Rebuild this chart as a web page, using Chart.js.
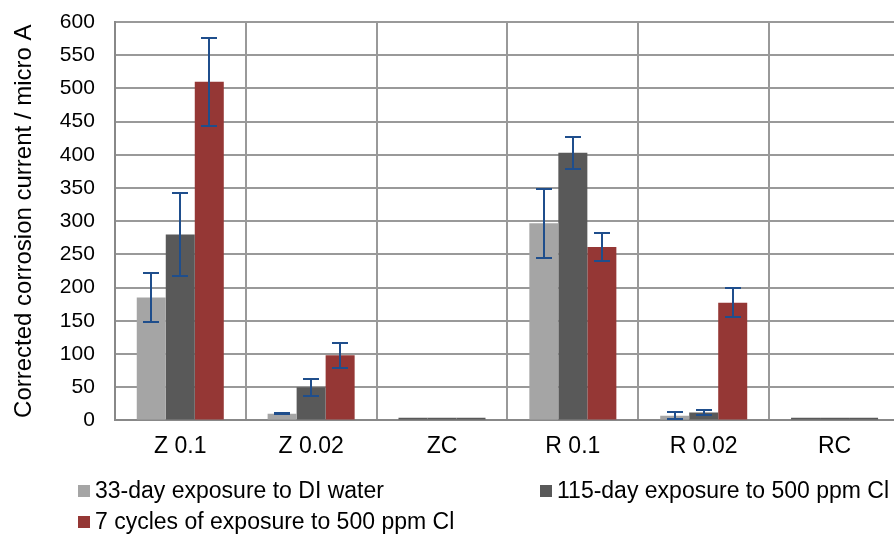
<!DOCTYPE html>
<html>
<head>
<meta charset="utf-8">
<script src="https://cdn.jsdelivr.net/npm/chart.js@4/dist/chart.umd.min.js"></script>
<style>
  html, body { margin: 0; padding: 0; background: #fff; overflow: hidden; }
  #wrap { position: relative; width: 900px; height: 534px; }
  #legend { position: absolute; left: 0; top: 0; width: 900px; height: 534px; pointer-events: none;
            font-family: "Liberation Sans", Arial, sans-serif; font-size: 23px; color: #000; }
  .item { position: absolute; white-space: nowrap; line-height: 26px; }
  .box { display: inline-block; width: 12px; height: 12px; margin-right: 5px; vertical-align: 1px; }
</style>
</head>
<body>
<div id="wrap">
  <canvas id="chart" width="900" height="534"></canvas>
  <div id="legend"></div>
</div>
<script>
const categories = ['Z 0.1', 'Z 0.02', 'ZC', 'R 0.1', 'R 0.02', 'RC'];
const yTicks = [0, 50, 100, 150, 200, 250, 300, 350, 400, 450, 500, 550, 600];

const seriesNames = [
    '33-day exposure to DI water',
    '115-day exposure to 500 ppm Cl',
    '7 cycles of exposure to 500 ppm Cl'
];
const seriesColors = ['#A5A5A5', '#595959', '#953735'];

// ZC and RC (controls) sit barely above zero
const diWater = [185, 10, 4, 297, 7, 4];
const diWaterErr = [37, 1, null, 52, 5, null];

const chloride115 = [280, 50, 4, 403, 12, 4];
const chloride115Err = [62, 13, null, 24, 4, null];

const cycles7 = [510, 98, 4, 261, 177, 4];
const cycles7Err = [66, 19, null, 21, 22, null];

const controlCats = ['ZC', 'RC'];
const controlColor = '#595959';
const errorColor = '#1F4E8C';

// error bars, placed with the y scale
const errorBars = {
    id: 'errorBars',
    afterDatasetsDraw(chart) {
        const ctx = chart.ctx;
        const y = chart.scales.y;
        ctx.save();
        ctx.strokeStyle = errorColor;
        ctx.lineWidth = 2;
        chart.data.datasets.forEach((ds, di) => {
            const meta = chart.getDatasetMeta(di);
            meta.data.forEach((bar, i) => {
                const v = ds.data[i], e = ds.errors[i];
                if (v == null || e == null) return;
                const top = Math.round(y.getPixelForValue(v + e));
                const bot = Math.round(y.getPixelForValue(v - e));
                const x = Math.round(bar.x);
                ctx.beginPath();
                ctx.moveTo(x, top); ctx.lineTo(x, bot);
                ctx.moveTo(x - 8, top); ctx.lineTo(x + 8, top);
                ctx.moveTo(x - 8, bot); ctx.lineTo(x + 8, bot);
                ctx.stroke();
            });
        });
        ctx.restore();
    }
};

const fam = '"Liberation Sans", Arial, sans-serif';

function barColors(color) {
    return categories.map(c => controlCats.includes(c) ? controlColor : color);
}

new Chart(document.getElementById('chart'), {
    type: 'bar',
    data: {
        labels: categories,
        datasets: [
            { label: seriesNames[0], data: diWater, errors: diWaterErr, backgroundColor: barColors(seriesColors[0]) },
            { label: seriesNames[1], data: chloride115, errors: chloride115Err, backgroundColor: barColors(seriesColors[1]) },
            { label: seriesNames[2], data: cycles7, errors: cycles7Err, backgroundColor: barColors(seriesColors[2]) }
        ]
    },
    options: {
        responsive: false,
        animation: false,
        categoryPercentage: 0.665,
        barPercentage: 1,
        layout: { padding: { left: 1, top: 22, right: 0, bottom: 62 } },
        plugins: {
            legend: { display: false },
            tooltip: { enabled: false }
        },
        scales: {
            x: {
                grid: { color: '#999', lineWidth: 2, drawTicks: false, offset: true },
                border: { color: '#888', width: 2 },
                ticks: { font: { family: fam, size: 23 }, color: '#000', padding: 12 }
            },
            y: {
                min: 0, max: 600,
                afterBuildTicks: axis => { axis.ticks = yTicks.map(v => ({ value: v })); },
                // invisible tick marks keep the labels off the axis
                grid: { color: '#999', lineWidth: 2, drawTicks: true, tickLength: 20, tickColor: 'rgba(0,0,0,0)' },
                border: { color: '#888', width: 2 },
                ticks: { font: { family: fam, size: 21 }, color: '#000', padding: 0 },
                title: {
                    display: true, text: 'Corrected corrosion current / micro A',
                    font: { family: fam, size: 24 }, color: '#000',
                    padding: { top: 9, bottom: 21 }
                }
            }
        }
    },
    plugins: [errorBars]
});

// legend in two columns
const legendPos = [[78, 477], [540, 477], [78, 508]];
const legendEl = document.getElementById('legend');
seriesNames.forEach((name, i) => {
    const div = document.createElement('div');
    div.className = 'item';
    div.style.left = legendPos[i][0] + 'px';
    div.style.top = legendPos[i][1] + 'px';
    div.innerHTML = '<span class="box" style="background:' + seriesColors[i] + '"></span>' + name;
    legendEl.appendChild(div);
});
</script>
</body>
</html>
